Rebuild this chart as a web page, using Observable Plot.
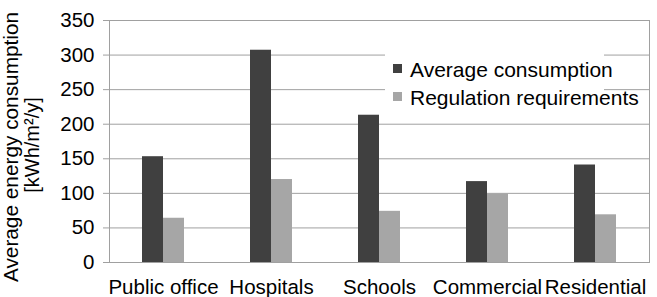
<!DOCTYPE html>
<html>
<head>
<meta charset="utf-8">
<script src="https://cdn.jsdelivr.net/npm/d3@7"></script>
<script src="https://cdn.jsdelivr.net/npm/@observablehq/plot@0.6"></script>
<style>
  body { margin: 0; background: #fff; }
  #chart { position: relative; width: 657px; height: 297px; font-family: "Liberation Sans", Arial, sans-serif; }
  #chart svg.overlay { position: absolute; left: 0; top: 0; pointer-events: none; }
</style>
</head>
<body>
<div id="chart"></div>
<script>
const categories = ["Public office", "Hospitals", "Schools", "Commercial", "Residential"];
const series = ["Average consumption", "Regulation requirements"];
const averageConsumption = [153, 307, 213, 117, 141];
const regulationRequirements = [64, 120, 74, 99, 69];
const yTicks = [0, 50, 100, 150, 200, 250, 300, 350];
const seriesColors = ["#404040", "#a6a6a6"];
const yLabelLines = ["Average energy consumption", "[kWh/m\u00B2/y]"];

const data = categories.flatMap((c, i) => [
  {category: c, series: series[0], value: averageConsumption[i]},
  {category: c, series: series[1], value: regulationRequirements[i]}
]);

const gridColor = "#a0a0a0";

const plot = Plot.plot({
  width: 657,
  height: 297,
  marginTop: 20,
  marginBottom: 35,
  marginLeft: 108,
  marginRight: 7,
  style: {fontFamily: '"Liberation Sans", Arial, sans-serif', fontSize: "20px", color: "#000", background: "transparent"},
  fx: {domain: categories, padding: 0, label: null},
  x: {domain: series, axis: null, paddingInner: 0, paddingOuter: 1.5},
  y: {domain: [0, 350], label: null},
  color: {domain: series, range: seriesColors},
  marks: [
    Plot.gridY(yTicks, {stroke: gridColor, strokeOpacity: 1}),
    Plot.frame({stroke: gridColor, facet: "super"}),
    Plot.barY(data, {fx: "category", x: "series", y: "value", fill: "series"}),
    Plot.axisY({anchor: "left", ticks: yTicks, tickSize: 6, tickPadding: 9, label: null, stroke: gridColor, fill: "#000", fontSize: 20.5}),
    Plot.axisFx({anchor: "bottom", tickSize: 0, tickPadding: 17, label: null, fill: "#000", fontSize: 20.5})
  ]
});

const chart = document.getElementById("chart");
chart.appendChild(plot);

// Overlay: y label and legend
const ns = "http://www.w3.org/2000/svg";
const ov = document.createElementNS(ns, "svg");
ov.setAttribute("class", "overlay");
ov.setAttribute("width", 657);
ov.setAttribute("height", 297);
ov.setAttribute("font-family", '"Liberation Sans", Arial, sans-serif');

function el(name, attrs, text) {
  const e = document.createElementNS(ns, name);
  for (const k in attrs) e.setAttribute(k, attrs[k]);
  if (text != null) e.textContent = text;
  ov.appendChild(e);
  return e;
}

// Y-axis label (two lines, rotated)
el("text", {transform: "translate(17.5,147) rotate(-90)", "text-anchor": "middle", "font-size": "20.8px", fill: "#000"}, yLabelLines[0]);
el("text", {transform: "translate(39,145) rotate(-90)", "text-anchor": "middle", "font-size": "20px", fill: "#000"}, yLabelLines[1]);

// Legend
el("rect", {x: 385, y: 46, width: 219, height: 74, fill: "#fff"});
series.forEach((s, i) => {
  const cy = 69 + i * 28;
  el("rect", {x: 393, y: cy - 5, width: 9, height: 9, fill: seriesColors[i]});
  el("text", {x: 410, y: cy + 7.5, "font-size": "21px", fill: "#000"}, s);
});

chart.appendChild(ov);
</script>
</body>
</html>
